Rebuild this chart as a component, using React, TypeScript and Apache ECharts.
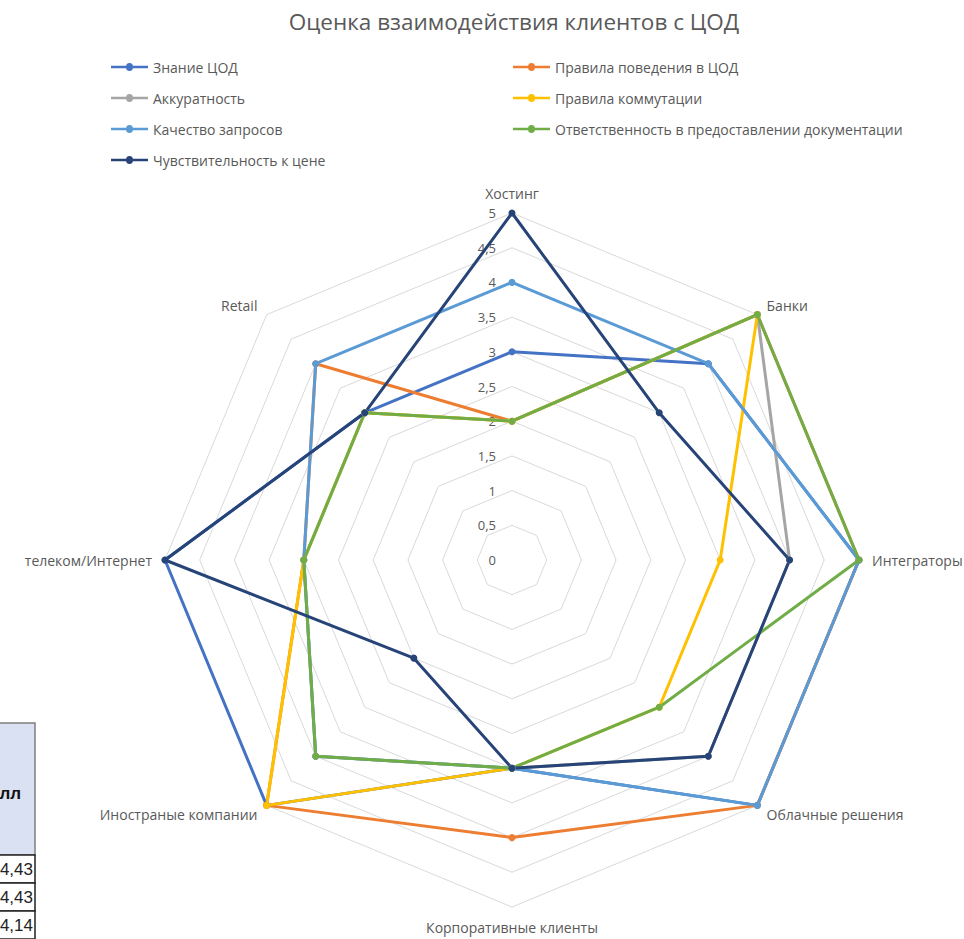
import React, { useEffect, useRef } from "react";
import * as echarts from "echarts";

// Categories in visual clockwise order starting from the top
const categories = [
  "Хостинг",
  "Банки",
  "Интеграторы",
  "Облачные решения",
  "Корпоративные клиенты",
  "Иностраные компании",
  "телеком/Интернет",
  "Retail",
];

const seriesNames = [
  "Знание ЦОД",
  "Правила поведения в ЦОД",
  "Аккуратность",
  "Правила коммутации",
  "Качество запросов",
  "Ответственность в предоставлении документации",
  "Чувствительность к цене",
];

const knowledge = [3, 4, 5, 5, 3, 5, 5, 3];
const behaviour = [2, 5, 5, 5, 4, 5, 3, 4];
const accuracy = [2, 5, 4, 4, 3, 4, 3, 3];
const switching = [2, 5, 3, 3, 3, 5, 3, 3];
const requests = [4, 4, 5, 5, 3, 4, 3, 4];
const documents = [2, 5, 5, 3, 3, 4, 3, 3];
const priceSensitivity = [5, 3, 4, 4, 3, 2, 5, 3];

const seriesValues = [knowledge, behaviour, accuracy, switching, requests, documents, priceSensitivity];
const seriesColors = ["#4472C4", "#ED7D31", "#A5A5A5", "#FFC000", "#5B9BD5", "#70AD47", "#264478"];

const tableHeader = "лл";
const tableValues = ["4,43", "4,43", "4,14"];

const chartTitle = "Оценка взаимодействия клиентов с ЦОД";

const FONT = "'Open Sans', 'Noto Sans', sans-serif";

// ECharts radar goes counter-clockwise; reorder to reproduce clockwise layout
const order = [0, 7, 6, 5, 4, 3, 2, 1];

const legendIcon =
  "path://M0,3H15.6V5H0Z M21.4,3H37V5H21.4Z M22,4A3.5,3.5 0 1,1 15,4A3.5,3.5 0 1,1 22,4Z";

export default function App() {
  const ref = useRef<HTMLDivElement>(null);

  useEffect(() => {
    if (!ref.current) return;
    const chart = echarts.init(ref.current, undefined, { renderer: "svg" });

    const tableGraphics: any[] = [
      {
        type: "rect",
        shape: { x: -2, y: 723, width: 37, height: 132 },
        style: { fill: "#D9E1F2", stroke: "#7F7F7F", lineWidth: 1.5 },
      },
      {
        type: "text",
        x: 21,
        y: 793,
        style: {
          text: tableHeader,
          textAlign: "right",
          textVerticalAlign: "middle",
          fontSize: 17,
          fontWeight: "bold",
          fill: "#111",
          fontFamily: "'Liberation Sans', sans-serif",
        },
      },
    ];
    tableValues.forEach((v, i) => {
      tableGraphics.push({
        type: "rect",
        shape: { x: -2, y: 855 + i * 28, width: 37, height: 28 },
        style: { fill: "#fff", stroke: "#222", lineWidth: 1.5 },
      });
      tableGraphics.push({
        type: "text",
        x: 33,
        y: 869 + i * 28,
        style: {
          text: v,
          textAlign: "right",
          textVerticalAlign: "middle",
          fontSize: 17,
          fill: "#222",
          fontFamily: "'Liberation Sans', sans-serif",
        },
      });
    });

    const legendCommon = {
      orient: "vertical",
      top: 55,
      itemWidth: 37,
      itemHeight: 8,
      itemGap: 17,
      symbolKeepAspect: false,
      icon: legendIcon,
      textStyle: { color: "#595959", fontSize: 14, fontFamily: FONT },
      selectedMode: false,
    };

    const option: any = {
      animation: false,
      backgroundColor: "#ffffff",
      graphic: [
        {
          type: "text",
          x: 514,
          y: 21,
          style: {
            text: chartTitle,
            textAlign: "center",
            textVerticalAlign: "middle",
            fontSize: 22.5,
            fill: "#595959",
            fontFamily: FONT,
          },
        },
        ...tableGraphics,
      ],
      legend: [
        {
          ...legendCommon,
          left: 106,
          data: [seriesNames[0], seriesNames[2], seriesNames[4], seriesNames[6]],
        },
        {
          ...legendCommon,
          left: 508,
          data: [seriesNames[1], seriesNames[3], seriesNames[5]],
        },
      ],
      radar: {
        center: [512, 560],
        radius: 347,
        startAngle: 90,
        shape: "polygon",
        splitNumber: 10,
        nameGap: 13,
        indicator: order.map((i) => ({
          name: categories[i],
          min: 0,
          max: 5,
          axisLabel: { show: i === 0 },
        })),
        axisName: { color: "#595959", fontSize: 14, fontFamily: FONT },
        splitLine: { lineStyle: { color: "#D9D9D9", width: 1 } },
        splitArea: { show: false },
        axisLine: { show: false },
        axisTick: { show: false },
        axisLabel: {
          show: false,
          color: "#595959",
          fontSize: 13,
          fontFamily: FONT,
          margin: 16,
          formatter: (v: number) => String(v).replace(".", ","),
        },
      },
      series: seriesNames.map((name, s) => ({
        type: "radar",
        name,
        symbol: "circle",
        symbolSize: 7,
        lineStyle: { color: seriesColors[s], width: 3 },
        itemStyle: { color: seriesColors[s] },
        data: [{ name, value: order.map((i) => seriesValues[s][i]) }],
      })),
    };

    chart.setOption(option);
    return () => chart.dispose();
  }, []);

  return (
    <div
      ref={ref}
      style={{ position: "fixed", left: 0, top: 0, width: 964, height: 939 }}
    />
  );
}
